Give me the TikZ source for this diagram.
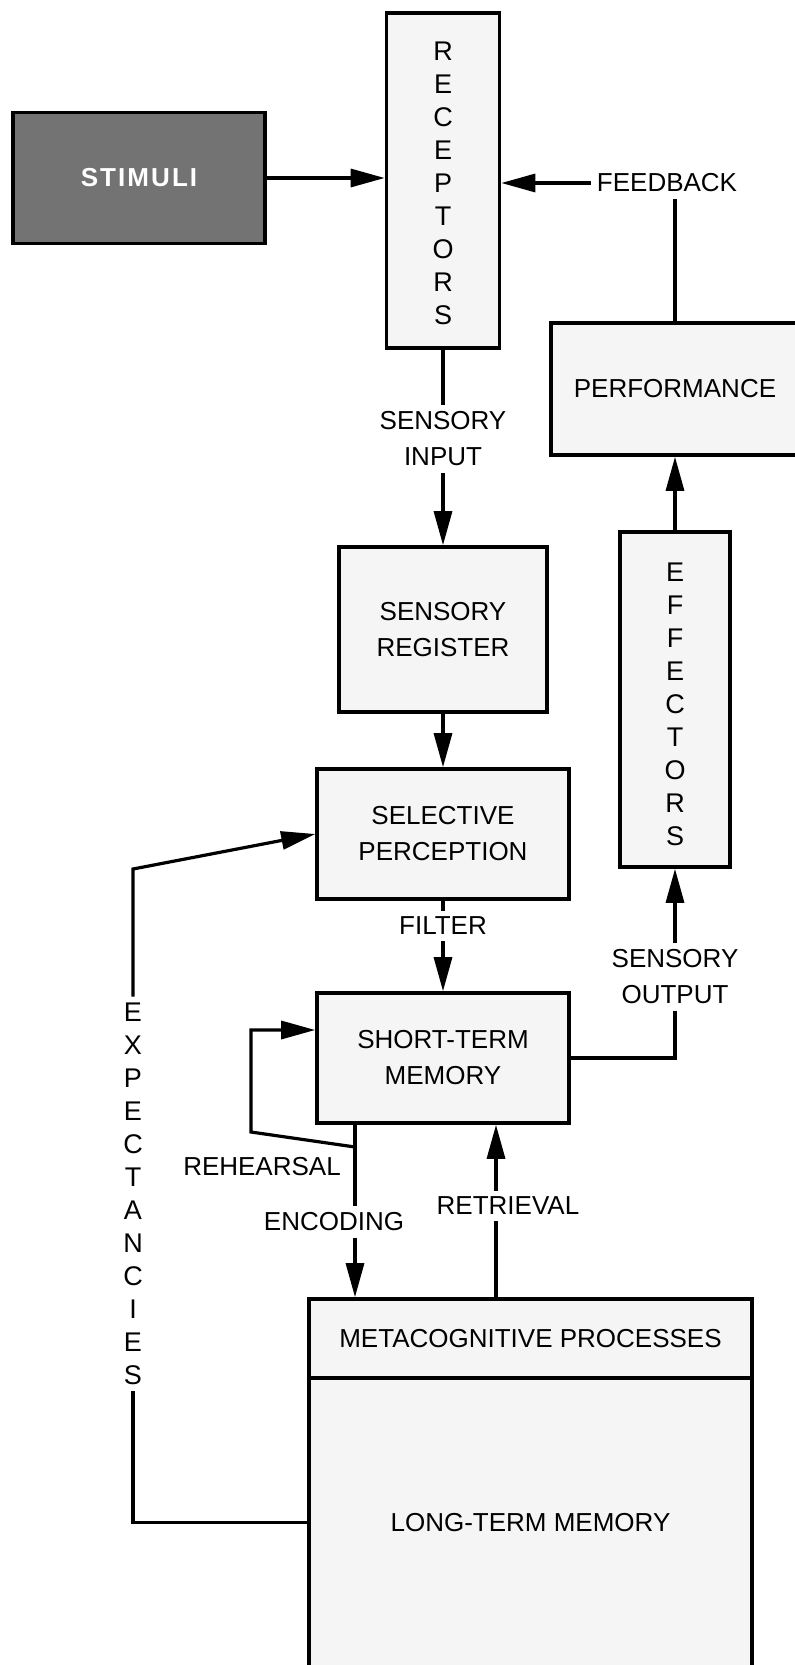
\documentclass[tikz,border=0pt]{standalone}
\usepackage{fontspec}
\setmainfont{Liberation Sans}
\usetikzlibrary{arrows.meta, positioning, calc}

\begin{document}
\begin{tikzpicture}[x=0.5pt, y=-0.5pt, >={Triangle[length=17pt, width=9pt]},
        every node/.style={font=\fontsize{13}{18}\selectfont},
        box/.style={draw, line width=1.8pt, fill=black!4, align=center, inner sep=0pt},
        lbl/.style={align=center, inner sep=3pt},
        stack/.style={align=center, inner sep=3pt, font=\fontsize{13.5}{16.5}\selectfont},
        conn/.style={line width=1.6pt}]
        \path[use as bounding box] (0, 0) rectangle (795, 1665);
        \clip (0, 0) rectangle (795, 1665);
        % boxes
        \node[box, fill=black!55, text=white, font=\fontsize{13}{18}\bfseries\addfontfeature{LetterSpace=8}, minimum width=126pt, minimum height=65.5pt] (stim) at (139, 178) {STIMULI};
        \node[box, minimum width=56.5pt, minimum height=167.5pt] (rec) at (443, 180.5) {};
        \node[stack] at (443, 183.5) {R\\E\\C\\E\\P\\T\\O\\R\\S};
        \node[box, minimum width=124pt, minimum height=66pt] (perf) at (675, 389) {PERFORMANCE};
        \node[box, minimum width=104pt, minimum height=82.5pt] (reg) at (443, 629.5) {SENSORY\\REGISTER};
        \node[box, minimum width=126pt, minimum height=65pt] (sel) at (443, 834) {SELECTIVE\\PERCEPTION};
        \node[box, minimum width=126pt, minimum height=65pt] (stm) at (443, 1058) {SHORT-TERM\\MEMORY};
        \node[box, minimum width=55pt, minimum height=167.5pt] (eff) at (675, 699.5) {};
        \node[stack] at (675, 704) {E\\F\\F\\E\\C\\T\\O\\R\\S};
        \node[box, minimum width=221.5pt, minimum height=39.5pt] (meta) at (530.5, 1338.5) {METACOGNITIVE PROCESSES};
        \node[box, minimum width=221.5pt, minimum height=144.5pt] (ltm) at (530.5, 1522.5) {LONG-TERM MEMORY};
        % labels
        \node[lbl] (fb) at (667, 183) {FEEDBACK};
        \node[lbl] (sin) at (443, 439) {SENSORY\\INPUT};
        \node[lbl] (filter) at (443, 926) {FILTER};
        \node[lbl] (sout) at (675, 977) {SENSORY\\OUTPUT};
        \node[lbl] (reh) at (262, 1167) {REHEARSAL};
        \node[lbl] (enc) at (334, 1222) {ENCODING};
        \node[lbl] (ret) at (508, 1206) {RETRIEVAL};
        \node[stack] (exp) at (133, 1194) {E\\X\\P\\E\\C\\T\\A\\N\\C\\I\\E\\S};
        \coordinate (encx) at (355, 1147);
        \coordinate (rehcorner) at (251, 1132);
        \coordinate (retx) at (496, 1299);
        \coordinate (expcorner) at (133, 869);
        % connectors
        \draw[conn, ->] (stim) -- (stim -| rec.west);
        \draw[conn, ->] (fb) -- (fb -| rec.east);
        \draw[conn] (perf.north) -- (perf.north |- fb.south);
        \draw[conn] (rec) -- (sin);
        \draw[conn, ->] (sin) -- (reg);
        \draw[conn, ->] (reg) -- (sel);
        \draw[conn] (sel) -- (filter);
        \draw[conn, ->] (filter) -- (stm);
        \draw[conn, ->] (eff) -- (perf);
        \draw[conn, ->] (sout) -- (eff);
        \draw[conn] (sout.south) |- (stm.east);
        \draw[conn] (stm.south -| encx) -- (enc.north -| encx);
        \draw[conn, ->] (enc.south -| encx) -- (meta.north -| encx);
        \draw[conn, ->] (encx) -- (rehcorner) |- ([yshift=14pt]stm.west);
        \draw[conn] (meta.north -| retx) -- (ret.south -| retx);
        \draw[conn, ->] (ret.north -| retx) -- (stm.south -| retx);
        \draw[conn] (ltm.west) -| (exp.south);
        \draw[conn, ->] (exp.north) -- (expcorner) -- (sel.west);
\end{tikzpicture}
\end{document}
